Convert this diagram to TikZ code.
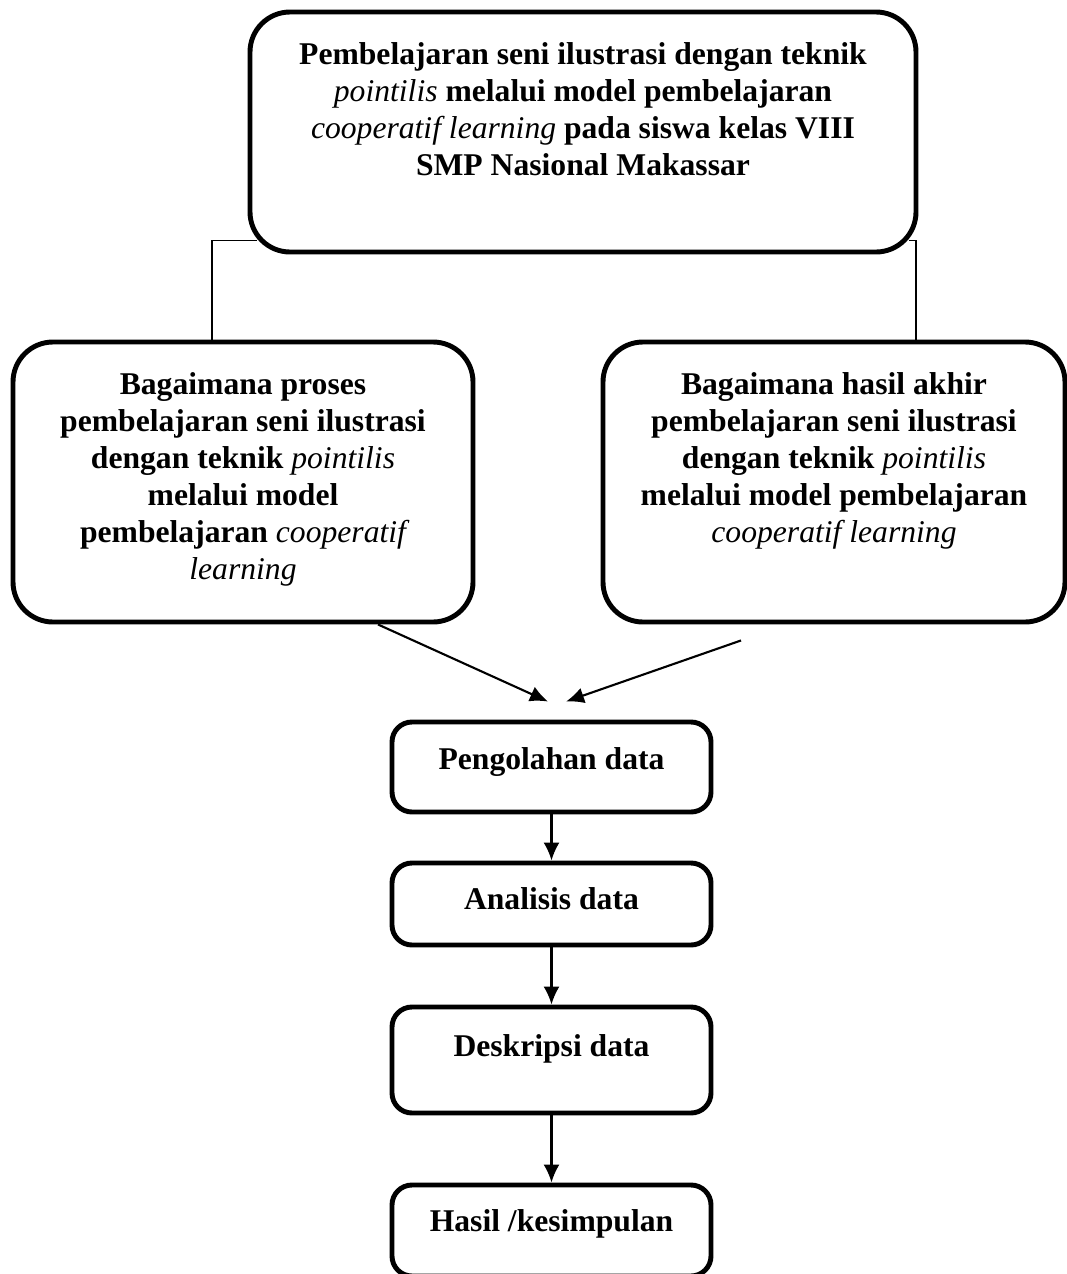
\documentclass[tikz,border=0pt]{standalone}
\usepackage{fontspec}
\setmainfont{Liberation Serif}
\usetikzlibrary{arrows.meta}
\newcommand{\asing}[1]{{\mdseries\itshape #1}}
\newcommand{\isi}[4][0.62cm]{\parbox[c][#3][t]{#2}{\centering\vspace*{#1}#4}}

\begin{document}
\begin{tikzpicture}[
  kotak/.style={draw, line width=2.8pt, rounded corners=0.8cm, inner sep=0pt,
    font=\fontsize{18}{21}\selectfont\bfseries},
  kecil/.style={kotak, rounded corners=0.4cm},
  garis/.style={line width=0.9pt},
  panah/.style={-{Latex[length=3.6mm,width=3.2mm]}, line width=1.2pt}]

\useasboundingbox (0,0) rectangle (21.34,-25.48);

\node[kotak] (judul) at (11.66,-2.64) {\isi{13.32cm}{4.8cm}{Pembelajaran seni ilustrasi dengan teknik\\
  \asing{pointilis} melalui model pembelajaran\\
  \asing{cooperatif learning} pada siswa kelas VIII\\
  SMP Nasional Makassar}};
\node[kotak] (kiri) at (4.86,-9.64) {\isi{9.2cm}{5.6cm}{Bagaimana proses\\
  pembelajaran seni ilustrasi\\
  dengan teknik \asing{pointilis}\\
  melalui model\\
  pembelajaran \asing{cooperatif}\\
  \asing{learning}}};
\node[kotak] (kanan) at (16.68,-9.64) {\isi{9.24cm}{5.6cm}{Bagaimana hasil akhir\\
  pembelajaran seni ilustrasi\\
  dengan teknik \asing{pointilis}\\
  melalui model pembelajaran\\
  \asing{cooperatif learning}}};

\node[kecil] (olah)      at (11.03,-15.34) {\isi[0.52cm]{6.38cm}{1.8cm}{Pengolahan data}};
\node[kecil] (analisis)  at (11.03,-18.08) {\isi[0.5cm]{6.38cm}{1.64cm}{Analisis data}};
\node[kecil] (deskripsi) at (11.03,-21.2)  {\isi[0.56cm]{6.38cm}{2.12cm}{Deskripsi data}};
\node[kecil] (hasil)     at (11.03,-24.61) {\isi[0.5cm]{6.38cm}{1.82cm}{Hasil /kesimpulan}};

\draw[garis] ([xshift=0.19cm,yshift=0.28cm]judul.south west) -| ([xshift=-0.62cm]kiri.north);
\draw[garis] ([xshift=-0.19cm,yshift=0.28cm]judul.south east) -| ([xshift=1.64cm]kanan.north);

\draw[panah] ([xshift=2.7cm]kiri.south) -- ([xshift=-0.07cm,yshift=0.36cm]olah.north);
\draw[panah] ([xshift=-1.86cm,yshift=-0.32cm]kanan.south) -- ([xshift=0.29cm,yshift=0.36cm]olah.north);
\draw[panah] (olah) -- (analisis);
\draw[panah] (analisis) -- (deskripsi);
\draw[panah] (deskripsi) -- (hasil);

\end{tikzpicture}
\end{document}
